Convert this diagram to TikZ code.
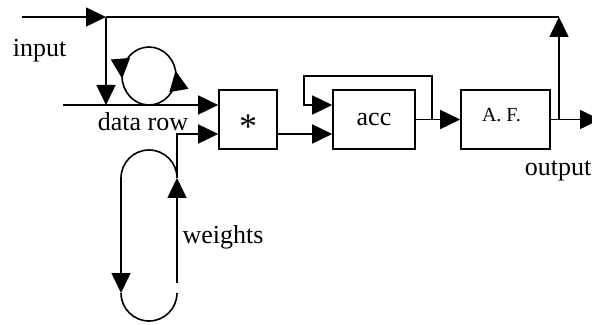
\documentclass[tikz,border=0pt]{standalone}
\usepackage{fontspec}
\setmainfont{Liberation Serif}
\usetikzlibrary{arrows.meta,calc,decorations.markings}

\tikzset{
  tip/.tip={Triangle[length=10pt,width=9.5pt]},
  sig/.style={line width=0.8pt},
  arr/.style={sig, -tip},
  blk/.style={draw, line width=0.8pt, minimum height=29.5pt, inner sep=0pt},
  lbl/.style={font=\fontsize{13}{15}\selectfont, inner sep=0pt},
  loopmarks/.style={postaction=decorate, decoration={markings,
    mark=at position 0.485 with {\arrowreversed{tip}},
    mark=at position 0.97 with {\arrowreversed{tip}}}}
}

\begin{document}
\begin{tikzpicture}[x=0.5pt, y=-0.5pt]
            \useasboundingbox (0,0) rectangle (592,325);
            \node[blk, minimum width=29pt] (mul) at (248,119.5) {};
            \node[blk, minimum width=41pt, lbl] (acc) at (374,119.5) {acc};
            \node[blk, minimum width=44.5pt] (af) at (505.5,119.5) {};
            \node[lbl, font=\fontsize{18}{20}\selectfont] (mulsym) at (248,127) {*};
            \node[lbl, font=\fontsize{10}{12}\selectfont] (afsym) at (501.5,115) {A. F.};
            \node[lbl] (lblin) at (39.5,51) {input};
            \node[lbl] (lblrow) at (143,121.5) {data row};
            \node[lbl] (lblw) at (223,237) {weights};
            \node[lbl] (lblout) at (558,171) {output};
            \coordinate (in) at (22,17);
            \coordinate (tap) at (106,17);
            \coordinate (top) at (559,17);
            \coordinate (drow) at (63,105);
            \coordinate (tapdown) at (106,105);
            \coordinate (dc) at (149,76);
            \coordinate (fb1) at (432,119.5);
            \coordinate (fb2) at (432,76);
            \coordinate (fb3) at (304,76);
            \coordinate (fb4) at (304,105);
            \coordinate (afj) at (559,119.5);
            \coordinate (outend) at (600,119.5);
            \coordinate (wtr) at (177,178);
            \coordinate (wbl) at (121,293);
            \coordinate (wgap) at (177,283);
            \coordinate (wj) at (177,134);
            % input line and tap
            \draw[arr] (in) -- (tap);
            \draw[sig] (tap) -- (top);
            \draw[arr] (tap) -- (tapdown);
            \draw[arr] (drow) -- (mul.west |- drow);
            \draw[sig, loopmarks] (dc) ellipse[x radius=27, y radius=29];
            % weights loop
            \draw[arr] (wtr) arc[start angle=0, end angle=-180, radius=28] -- (wbl);
            \draw[sig] (wbl) arc[start angle=180, end angle=0, radius=28];
            \draw[arr] (wgap) -- (wtr);
            \draw[arr] (wtr) -- (wj) -- (mul.west |- wj);
            % accumulator and output
            \draw[arr] (mul.east |- wj) -- (acc.west |- wj);
            \draw[arr] (acc.east) -- (af.west);
            \draw[arr] (fb1) -- (fb2) -- (fb3) -- (fb4) -- (acc.west |- fb4);
            \draw[arr] (af.east) -- (outend);
            \draw[arr] (afj) -- (top);
\end{tikzpicture}
\end{document}
